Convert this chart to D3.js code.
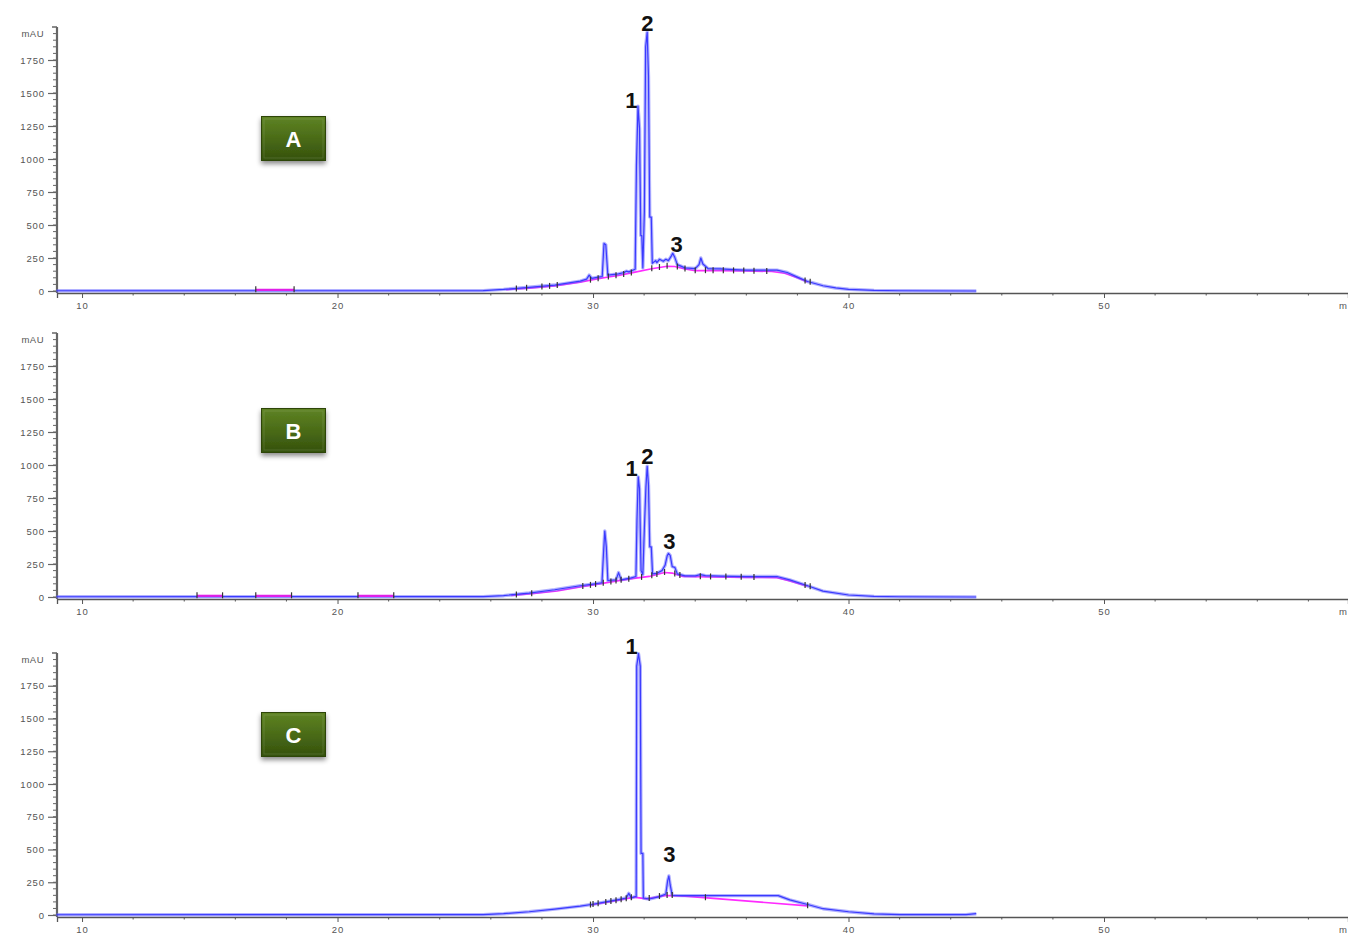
<!DOCTYPE html>
<html>
<head>
<meta charset="utf-8">
<script src="https://cdn.jsdelivr.net/npm/d3@7/dist/d3.min.js"></script>
<style>
  body { margin: 0; background: #fff; }
  svg { display: block; }
  text { font-family: Arial, "Liberation Sans", sans-serif; }
</style>
</head>
<body>
<svg id="chart" width="1348" height="934"></svg>
<script>
// ---- data: retention time (min) vs absorbance (mAU) ----
const panelNames = ["A", "B", "C"];
const timeTicks = [10, 20, 30, 40, 50];
const mauTicks = [0, 250, 500, 750, 1000, 1250, 1500, 1750];

const traceA = [
  [9.0, 2], [16.8, 2], [18.3, 2], [25.7, 3], [26.5, 12], [27.5, 28], [28.5, 45], [29.5, 75],
  [29.75, 90], [29.85, 120], [29.95, 95], [30.2, 105], [30.36, 110], [30.43, 360], [30.5, 350],
  [30.58, 120], [31.0, 130], [31.22, 140], [31.3, 150], [31.4, 145], [31.65, 165], [31.7, 950],
  [31.76, 1400], [31.82, 1230], [31.87, 420], [31.91, 420], [31.95, 175], [32.01, 600],
  [32.06, 1850], [32.12, 1960], [32.17, 1630], [32.22, 560], [32.28, 560], [32.32, 210],
  [32.45, 230], [32.5, 215], [32.6, 240], [32.75, 225], [32.85, 240], [32.95, 230], [33.05, 260],
  [33.12, 285], [33.2, 255], [33.3, 200], [33.6, 175], [34.0, 170], [34.15, 200], [34.22, 250],
  [34.3, 205], [34.5, 170], [35.0, 168], [35.5, 162], [36.0, 158], [37.2, 158], [37.6, 140],
  [38.0, 105], [38.4, 72], [39.0, 40], [39.5, 23], [40.0, 13], [41.0, 5], [42.0, 2], [45.0, 0]
];
const traceB = [
  [9.0, 2], [25.7, 3], [26.5, 10], [27.5, 30], [28.5, 55], [29.5, 85], [30.0, 98], [30.35, 108],
  [30.41, 330], [30.46, 500], [30.52, 380], [30.58, 125], [30.9, 130], [31.0, 185], [31.1, 130],
  [31.5, 145], [31.68, 155], [31.72, 580], [31.77, 910], [31.82, 820], [31.88, 200], [31.95, 170],
  [32.01, 520], [32.07, 830], [32.12, 990], [32.17, 850], [32.22, 380], [32.28, 380], [32.33, 175],
  [32.5, 180], [32.7, 200], [32.82, 240], [32.9, 310], [32.95, 330], [33.02, 315], [33.1, 230],
  [33.2, 225], [33.3, 175], [33.6, 160], [34.0, 160], [34.2, 170], [34.4, 162], [35.0, 158],
  [36.0, 155], [37.2, 155], [37.7, 130], [38.4, 85], [39.0, 45], [40.0, 15], [41.0, 5],
  [42.0, 2], [45.0, 0]
];
const traceC = [
  [9.0, 2], [25.7, 3], [26.5, 10], [27.5, 25], [28.5, 45], [29.5, 68], [30.0, 82], [30.5, 100],
  [31.0, 118], [31.3, 130], [31.4, 165], [31.5, 130], [31.65, 140], [31.69, 140], [31.71, 1900],
  [31.78, 1995], [31.85, 1900], [31.88, 470], [31.95, 470], [31.97, 130], [32.2, 122], [32.6, 140],
  [32.85, 160], [32.92, 260], [32.97, 298], [33.02, 230], [33.1, 150], [33.5, 148], [35.0, 148],
  [37.25, 148], [37.7, 115], [38.4, 80], [39.0, 48], [40.0, 25], [41.0, 8], [42.0, 3],
  [44.6, 3], [45.0, 10]
];

// integration baselines (each entry is one baseline segment)
const baselineA = [
  [[16.8, 9], [18.3, 9]],
  [[26.6, 10], [27.5, 22], [28.5, 38], [29.5, 66], [30.0, 86], [30.6, 106], [31.0, 118], [31.6, 141],
   [32.3, 168], [32.9, 188], [33.2, 186], [33.6, 166], [34.0, 154], [35.0, 154], [36.0, 151],
   [37.0, 148], [37.5, 134], [38.0, 101], [38.4, 68]]
];
const baselineB = [
  [[14.5, 9], [15.5, 9]],
  [[16.8, 9], [18.2, 9]],
  [[20.8, 9], [22.2, 9]],
  [[26.8, 12], [27.7, 27], [28.6, 46], [29.5, 76], [30.0, 91], [30.6, 111], [31.0, 124], [31.6, 141],
   [32.2, 156], [32.8, 186], [33.1, 181], [33.5, 156], [34.0, 153], [36.0, 149], [37.2, 146],
   [37.7, 121], [38.4, 81]]
];
const baselineC = [
  [[29.9, 76], [30.5, 96], [31.0, 113], [31.6, 136], [32.1, 123], [32.8, 148], [33.1, 148],
   [33.6, 144], [38.4, 70]]
];

// peak start/end markers
const markersA = [16.8, 18.3, 27.0, 27.4, 28.0, 28.3, 28.6, 29.9, 30.2, 30.6, 30.9, 31.2, 31.5,
  32.3, 32.6, 32.9, 33.3, 33.6, 34.0, 34.4, 34.7, 35.1, 35.5, 35.9, 36.3, 36.8, 38.3, 38.5];
const markersB = [14.5, 15.5, 16.8, 18.2, 20.8, 22.2, 27.0, 27.6, 29.6, 29.9, 30.1, 30.4, 30.7,
  30.9, 31.1, 31.4, 31.9, 32.3, 32.5, 32.8, 33.2, 33.4, 34.2, 34.6, 35.2, 35.8, 36.3, 38.3, 38.5];
const markersC = [29.9, 30.0, 30.2, 30.5, 30.7, 30.9, 31.1, 31.3, 31.5, 32.2, 32.6, 32.9, 33.1,
  34.4, 38.4];

// peak numbers: [label, time (min), mAU at text baseline]
const peaksA = [["1", 31.5, 1386], ["2", 32.13, 1970], ["3", 33.27, 295]];
const peaksB = [["1", 31.51, 917], ["2", 32.13, 1005], ["3", 32.99, 361]];
const peaksC = [["1", 31.51, 1991], ["3", 32.99, 405]];

const traces = [traceA, traceB, traceC];
const baselines = [baselineA, baselineB, baselineC];
const markers = [markersA, markersB, markersC];
const peakLabels = [peaksA, peaksB, peaksC];

// ---- layout ----
const svg = d3.select("#chart");
const W = 1348;
const axisLeft = 57;
const panels = [
  { zero: 291, top: 27, boxTop: 116 },
  { zero: 597, top: 333, boxTop: 408 },
  { zero: 915, top: 653, boxTop: 712 }
];
const x = d3.scaleLinear().domain([9.02, 59.55]).range([axisLeft, W]);

// gradient + shadow for the panel badges
const defs = svg.append("defs");
const grad = defs.append("linearGradient").attr("id", "badge").attr("x1", 0).attr("y1", 0).attr("x2", 0).attr("y2", 1);
grad.append("stop").attr("offset", "0%").attr("stop-color", "#5f8424");
grad.append("stop").attr("offset", "50%").attr("stop-color", "#4a6b17");
grad.append("stop").attr("offset", "100%").attr("stop-color", "#34500c");
const sh = defs.append("filter").attr("id", "shadow").attr("x", "-30%").attr("y", "-30%").attr("width", "160%").attr("height", "180%");
sh.append("feDropShadow").attr("dx", 0).attr("dy", 3).attr("stdDeviation", 2.5).attr("flood-color", "#000").attr("flood-opacity", 0.45);

function interp(series, t) {
  for (const seg of series) {
    for (let i = 0; i < seg.length - 1; i++) {
      const [t0, v0] = seg[i], [t1, v1] = seg[i + 1];
      if (t >= t0 && t <= t1) return v0 + (v1 - v0) * (t - t0) / (t1 - t0 || 1);
    }
  }
  return null;
}

const tickFont = { size: 9.5, fill: "#555", spacing: 0.9 };

panels.forEach((p, k) => {
  const y = d3.scaleLinear().domain([0, 1750]).range([p.zero, p.zero - (p.zero - p.top) * 1750 / 2000]);
  const yMax = y.invert(p.top);
  const g = svg.append("g");

  // y axis
  const yAxis = d3.axisLeft(y).tickValues(mauTicks).tickSize(9).tickPadding(3).tickFormat(d3.format("d"));
  const ya = g.append("g").attr("transform", `translate(${axisLeft},0)`).call(yAxis);
  ya.select(".domain").remove();
  ya.selectAll("line").attr("stroke", "#666").attr("stroke-width", 1.2);
  ya.selectAll("text").attr("font-size", tickFont.size).attr("fill", tickFont.fill)
    .attr("letter-spacing", tickFont.spacing).attr("font-family", "Arial, sans-serif");
  // minor ticks every 50 mAU
  g.append("g").selectAll("line").data(d3.range(0, yMax, 50)).join("line")
    .attr("x1", axisLeft - 4).attr("x2", axisLeft)
    .attr("y1", d => y(d)).attr("y2", d => y(d))
    .attr("stroke", "#666").attr("stroke-width", 1);
  g.append("line").attr("x1", axisLeft).attr("x2", axisLeft)
    .attr("y1", p.top).attr("y2", p.zero + 2)
    .attr("stroke", "#666").attr("stroke-width", 2.2);
  g.append("line").attr("x1", axisLeft - 5).attr("x2", axisLeft)
    .attr("y1", p.top).attr("y2", p.top).attr("stroke", "#666").attr("stroke-width", 1.5);
  g.append("text").attr("x", axisLeft - 13).attr("y", p.top + 10)
    .attr("text-anchor", "end").attr("font-size", tickFont.size).attr("fill", tickFont.fill)
    .attr("letter-spacing", 0.5).text("mAU");

  // x axis
  const baseY = p.zero + 2;
  const xAxis = d3.axisBottom(x).tickValues(timeTicks).tickSize(5).tickPadding(4).tickFormat(d3.format("d"));
  const xa = g.append("g").attr("transform", `translate(0,${baseY})`).call(xAxis);
  xa.select(".domain").attr("stroke", "#555").attr("stroke-width", 1.3);
  xa.selectAll("line").attr("stroke", "#555");
  xa.selectAll("text").attr("font-size", tickFont.size).attr("fill", tickFont.fill)
    .attr("letter-spacing", tickFont.spacing).attr("font-family", "Arial, sans-serif");
  g.append("g").selectAll("line").data(d3.range(12, 60, 2).filter(t => t % 10 !== 0)).join("line")
    .attr("x1", d => x(d)).attr("x2", d => x(d))
    .attr("y1", baseY).attr("y2", baseY + 2.5)
    .attr("stroke", "#555").attr("stroke-width", 1);
  g.append("text").attr("x", W - 1).attr("y", baseY + 16).attr("text-anchor", "end")
    .attr("font-size", tickFont.size).attr("fill", tickFont.fill).text("m");

  const line = d3.line().x(d => x(d[0])).y(d => y(d[1]));
  const segs = baselines[k];
  const hump = segs[segs.length - 1];

  // hump baseline sits under the trace
  g.append("path").attr("d", line(hump)).attr("fill", "none")
    .attr("stroke", "#ff2bff").attr("stroke-width", 1.6);

  // chromatogram trace: soft halo plus core line
  g.append("path").attr("d", line(traces[k])).attr("fill", "none")
    .attr("stroke", "rgba(100,100,255,0.5)").attr("stroke-width", 3.4).attr("stroke-linejoin", "round");
  g.append("path").attr("d", line(traces[k])).attr("fill", "none")
    .attr("stroke", "#3a3aff").attr("stroke-width", 1.2).attr("stroke-linejoin", "round");

  // short flat baselines drawn above the trace
  segs.slice(0, -1).forEach(seg => {
    g.append("path").attr("d", line(seg)).attr("fill", "none")
      .attr("stroke", "#e020e8").attr("stroke-width", 2.2);
  });

  // peak start/end markers on the baseline
  const markY = d => y(interp(segs, d) ?? interp([traces[k]], d));
  const mk = g.append("g").selectAll("g").data(markers[k]).join("g");
  mk.append("line")
    .attr("x1", d => x(d)).attr("x2", d => x(d))
    .attr("y1", d => markY(d) - 3.5).attr("y2", d => markY(d) + 2.5)
    .attr("stroke", "#333").attr("stroke-width", 1.2);

  // peak numbers
  g.append("g").selectAll("text").data(peakLabels[k]).join("text")
    .attr("x", d => x(d[1])).attr("y", d => y(d[2]))
    .attr("text-anchor", "middle").attr("font-size", 22).attr("font-weight", "bold")
    .attr("fill", "#111").text(d => d[0]);

  // sample badge
  const b = g.append("g").attr("transform", `translate(261,${p.boxTop})`);
  b.append("rect").attr("width", 65).attr("height", 45).attr("fill", "url(#badge)")
    .attr("filter", "url(#shadow)");
  b.append("rect").attr("x", 3).attr("y", 3).attr("width", 59).attr("height", 39)
    .attr("fill", "none").attr("stroke", "rgba(255,255,255,0.12)").attr("stroke-width", 1);
  b.append("rect").attr("x", 0.5).attr("y", 0.5).attr("width", 64).attr("height", 44)
    .attr("fill", "none").attr("stroke", "#2d4508").attr("stroke-width", 1);
  b.append("text").attr("x", 32.5).attr("y", 31).attr("text-anchor", "middle")
    .attr("font-size", 22).attr("font-weight", "bold").attr("fill", "#fff").text(panelNames[k]);
});
</script>
</body>
</html>
